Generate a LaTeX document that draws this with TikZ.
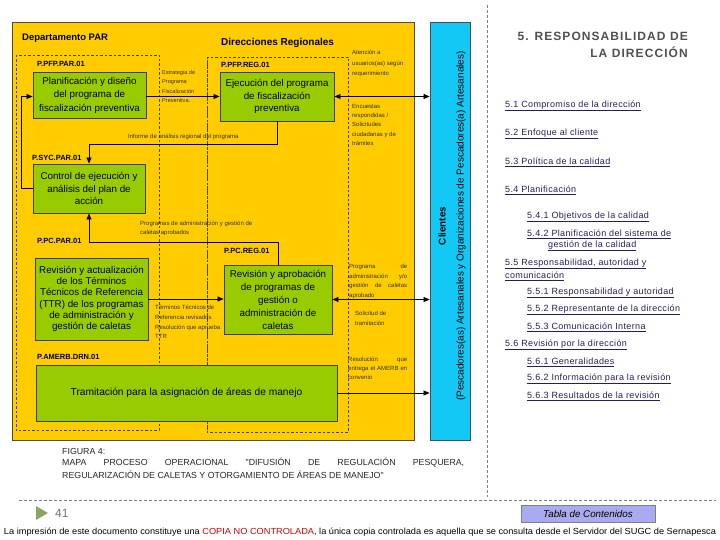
\documentclass[tikz,border=0pt]{standalone}
\usepackage{fontspec}
\setmainfont{Liberation Sans}
\newfontfamily\lsfont[LetterSpace=4]{Liberation Sans}
\newfontfamily\ttlfont[LetterSpace=9]{Liberation Sans}
\newfontfamily\capfont[Ligatures=TeXOff]{Liberation Sans}
\usetikzlibrary{arrows.meta,calc}
\definecolor{yel}{RGB}{255,204,0}
\definecolor{grn}{RGB}{153,204,0}
\definecolor{cyn}{RGB}{20,200,245}
\definecolor{lnk}{RGB}{42,28,92}
\definecolor{ttl}{RGB}{80,80,80}
\definecolor{btn}{RGB}{170,170,240}
\definecolor{boxline}{RGB}{60,60,60}
\definecolor{tri}{RGB}{140,165,100}
\tikzset{
  proc/.style={draw=boxline, fill=grn, line width=0.9pt, align=center, inner sep=2pt,
    font=\fontsize{9.8}{12.5}\selectfont},
  code/.style={font=\bfseries\fontsize{7.5}{9}\selectfont, anchor=west, inner sep=0},
  note/.style={font=\fontsize{6}{9.5}\selectfont, anchor=north west, inner sep=0, align=left, text=black!80},
  arr/.style={-{Triangle[length=6pt,width=5pt]}, line width=0.7pt},
  dbl/.style={{Triangle[length=6pt,width=5pt]}-{Triangle[length=6pt,width=5pt]}, line width=0.7pt},
  zone/.style={draw=black!75, dash pattern=on 2.5pt off 2pt, line width=0.6pt},
  li/.style={font=\lsfont\fontsize{9}{11}\selectfont, text=lnk, anchor=west, inner sep=0},
  capt/.style={font=\capfont\fontsize{8.8}{10}\selectfont, anchor=west, inner sep=0, text=black!85},
}
\newcommand\jl[2]{\makebox[#1pt][s]{#2}}
\begin{document}
\begin{tikzpicture}[x=1pt,y=-1pt]
\useasboundingbox (0,0) rectangle (720,540);
% backgrounds
\fill[yel, draw=black!70, line width=0.8pt] (12,22) rectangle (414,440);
\draw[zone] (16,55) rectangle (159,430);
\draw[zone] (207,57) rectangle (348,432);
\draw[zone, line width=1pt, dash pattern=on 2pt off 1.5pt] (207,57) -- (207,432);
% headings
\node[font=\bfseries\fontsize{9.5}{11}\selectfont, anchor=west, inner sep=0] (hpar) at (22,38) {Departamento PAR};
\node[font=\bfseries\fontsize{10}{12}\selectfont, anchor=west, inner sep=0] (hreg) at (221,43) {Direcciones Regionales};
% clients bar
\node[draw=black!70, fill=cyn, line width=0.8pt, minimum width=40pt, minimum height=418pt, inner sep=0] (cl) at (450,231) {};
\node[rotate=90, font=\bfseries\fontsize{9.8}{11}\selectfont, inner sep=0] (clt) at (442,226) {Clientes};
\node[rotate=90, font=\fontsize{10}{11}\selectfont, inner sep=0] (cls) at (461,226) {(Pescadores(as) Artesanales y Organizaciones de Pescadores(a) Artesanales)};
% process boxes
\node[proc, minimum width=113pt, minimum height=46pt, font=\fontsize{9.8}{13.5}\selectfont] (b1) at (89.5,95) {Planificación y diseño\\del programa de\\fiscalización preventiva};
\node[proc, minimum width=114pt, minimum height=49pt] (b2) at (277,96.5) {Ejecución del programa\\de fiscalización\\preventiva};
\node[proc, minimum width=112pt, minimum height=49pt] (b3) at (89,188.5) {Control de ejecución y\\análisis del plan de\\acción};
\node[proc, minimum width=113pt, minimum height=82pt, font=\fontsize{9.8}{11.3}\selectfont] (b4) at (91.5,299) {Revisión y actualización\\de los Términos\\Técnicos de Referencia\\(TTR) de los programas\\de administración y\\gestión de caletas};
\node[proc, minimum width=108pt, minimum height=69pt, font=\fontsize{9.8}{13}\selectfont] (b5) at (278,299.5) {Revisión y aprobación\\de programas de\\gestión o\\administración de\\caletas};
\node[proc, minimum width=301pt, minimum height=56pt, font=\fontsize{10.2}{12.5}\selectfont] (b6) at (186.5,393) {Tramitación para la asignación de áreas de manejo};
% codes
\node[code] (c1) at (37,64) {P.PFP.PAR.01};
\node[code] (c2) at (221,65) {P.PFP.REG.01};
\node[code] (c3) at (32,158) {P.SYC.PAR.01};
\node[code] (c4) at (37,241) {P.PC.PAR.01};
\node[code] (c5) at (224,251) {P.PC.REG.01};
\node[code] (c6) at (37,357) {P.AMERB.DRN.01};
% connectors
\draw[arr] (b1.east |- b2.west) -- (b2.west);
\draw[dbl] (b2.east) -- (b2.east -| cl.west);
\draw[arr] (b3.west) -- ++(-11,0) |- (b1.west |- b2.west);
\draw[arr] (b2.south) |- ($(b3.north)+(0,-19)$) -- (b3.north);
\draw[arr] (b5.north) |- ($(b3.south)+(0,29)$) -- (b3.south);
\draw[arr] (b4.east) -- (b4.east -| b5.west);
\draw[dbl] (b5.east) -- (b5.east -| cl.west);
\draw[arr] (b6.east) -- (b6.east -| cl.west);
% notes
\node[note, font=\fontsize{5.6}{9.5}\selectfont] (n1) at (162,70) {Estrategia de\\Programa\\Fiscalización\\Preventiva.};
\node[note] (n2) at (128,134) {Informe de análisis regional del programa};
\node[note, font=\fontsize{6}{10.5}\selectfont] (n3) at (352,50) {Atención a\\usuarios(as) según\\requerimiento};
\node[note, font=\fontsize{6}{9.3}\selectfont] (n4) at (352,104) {Encuestas\\respondidas /\\Solicitudes\\ciudadanas y de\\trámites};
\node[note, font=\fontsize{6}{9.3}\selectfont] (n5) at (140,221) {Programas de administración y gestión de\\caletas aprobados};
\node[note, font=\fontsize{6}{9.7}\selectfont] (n6) at (155,305) {Términos Técnicos de\\Referencia revisados\\Resolución que aprueba\\TTR};
\node[note, font=\fontsize{6}{9.7}\selectfont] (n7) at (349,264) {\jl{58}{Programa de}\\\jl{58}{administración y/o}\\\jl{58}{gestión de caletas}\\aprobado};
\node[note, font=\fontsize{6}{10}\selectfont] (n8) at (355,311) {Solicitud de\\tramitación};
\node[note, font=\fontsize{6}{9}\selectfont] (n9) at (348,357) {\jl{59}{Resolución que}\\\jl{59}{entrega el AMERB en}\\convenio};
% right panel
\draw[gray, dash pattern=on 3pt off 2pt, line width=0.5pt] (487,5) -- (487,497);
\node[font=\ttlfont\bfseries\fontsize{12}{14}\selectfont, text=ttl, anchor=east, inner sep=0] (t1) at (688,36) {5. RESPONSABILIDAD DE};
\node[font=\ttlfont\bfseries\fontsize{12}{14}\selectfont, text=ttl, anchor=east, inner sep=0] (t2) at (688,52.5) {LA DIRECCIÓN};
\node[li] (l1) at (505,106) {\underline{5.1 Compromiso de la dirección}};
\node[li] (l2) at (505,134) {\underline{5.2 Enfoque al cliente}};
\node[li] (l3) at (505,162) {\underline{5.3 Política de la calidad}};
\node[li] (l4) at (505,190) {\underline{5.4 Planificación}};
\node[li] (l5) at (527,217) {\underline{5.4.1 Objetivos de la calidad}};
\node[li] (l6) at (527,234) {\underline{5.4.2 Planificación del sistema de}};
\node[li] (l7) at (548,246) {\underline{gestión de la calidad}};
\node[li] (l8) at (505,264) {\underline{5.5 Responsabilidad, autoridad y}};
\node[li] (l9) at (505,276) {\underline{comunicación}};
\node[li] (l10) at (527,293) {\underline{5.5.1 Responsabilidad y autoridad}};
\node[li] (l11) at (527,310) {\underline{5.5.2 Representante de la dirección}};
\node[li] (l12) at (527,327) {\underline{5.5.3 Comunicación Interna}};
\node[li] (l13) at (505,345) {\underline{5.6 Revisión por la dirección}};
\node[li] (l14) at (527,362) {\underline{5.6.1 Generalidades}};
\node[li] (l15) at (527,379) {\underline{5.6.2 Información para la revisión}};
\node[li] (l16) at (527,396) {\underline{5.6.3 Resultados de la revisión}};
% caption
\node[capt] (f1) at (62,451) {FIGURA 4:};
\node[capt] (f2) at (62,463) {\makebox[402pt][s]{MAPA PROCESO OPERACIONAL "DIFUSIÓN DE REGULACIÓN PESQUERA,}};
\node[capt] (f3) at (62,475) {REGULARIZACIÓN DE CALETAS Y OTORGAMIENTO DE ÁREAS DE MANEJO"};
% footer
\draw[gray, dash pattern=on 3pt off 2pt, line width=0.5pt] (19,500) -- (716,500);
\fill[tri] (36,506) -- (48,513) -- (36,520) -- cycle;
\node[font=\fontsize{12}{14}\selectfont, text=black!55, anchor=west, inner sep=0] (pg) at (55,513) {41};
\node[draw=gray, fill=btn, line width=0.6pt, minimum width=134pt, minimum height=17pt, inner sep=0,
  font=\itshape\fontsize{9.8}{11}\selectfont] (tab) at (588,514) {Tabla de Contenidos};
\node[inner sep=0] (disc) at (360,532) {\resizebox{712pt}{6.5pt}{\fontsize{8}{9}\selectfont La impresión de este documento constituye una \textcolor{red!80!black}{COPIA NO CONTROLADA}, la única copia controlada es aquella que se consulta desde el Servidor del SUGC de Sernapesca}};
\end{tikzpicture}
\end{document}
